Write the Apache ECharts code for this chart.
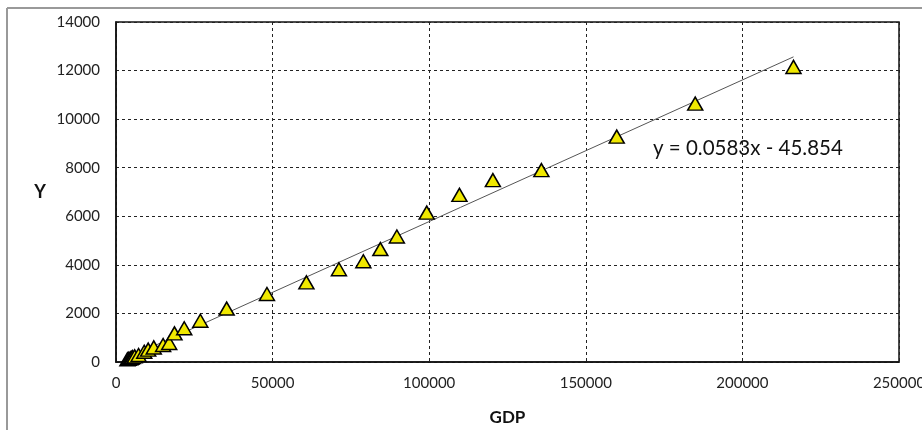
<!DOCTYPE html>
<html>
<head>
<meta charset="utf-8">
<script src="https://cdn.jsdelivr.net/npm/echarts@6/dist/echarts.min.js"></script>
<style>
  html, body { margin: 0; padding: 0; background: #fff; }
  #chart { width: 922px; height: 430px; }
</style>
</head>
<body>
<div id="chart"></div>
<script>
// GDP (x) vs Y
const gdp = [
  3645, 4063, 4546, 4892, 5323, 5963, 7208, 9016, 10275, 12059,
  15043, 16992, 18668, 21782, 26924, 35334, 48198, 60794, 71177, 78973,
  84402, 89677, 99215, 109655, 120333, 135823, 159878, 184937, 216314
]
const yValues = [
  110, 130, 155, 175, 200, 230, 290, 420, 510, 600,
  700, 780, 1180, 1390, 1700, 2200, 2800, 3280, 3820, 4150,
  4650, 5170, 6150, 6880, 7490, 7900, 9280, 10640, 12150
]

// trendline shown on the chart
const slope = 0.0583
const intercept = -45.854
const equationText = 'y = 0.0583x - 45.854'

const xTicks = { min: 0, max: 250000, interval: 50000 }
const yTicks = { min: 0, max: 14000, interval: 2000 }

const points = gdp.map((x, i) => [x, yValues[i]])
const xFirst = gdp[0]
const xLast = gdp[gdp.length - 1]
const trend = [
  [xFirst, slope * xFirst + intercept],
  [xLast, slope * xLast + intercept],
]

const font = 'Lato, "Open Sans", sans-serif'
const gridLine = { color: '#222', width: 1, type: [3, 3] }
const plainNumber = (v) => String(v)

const chart = echarts.init(document.getElementById('chart'), null, { renderer: 'canvas' })

chart.setOption({
  animation: false,
  backgroundColor: '#fff',
  grid: {
    left: 116,
    right: 23,
    top: 22,
    bottom: 68,
    containLabel: false,
    outerBoundsMode: 'none',
    show: true,
    borderColor: '#111',
    borderWidth: 1.5,
  },
  xAxis: {
    type: 'value',
    min: xTicks.min,
    max: xTicks.max,
    interval: xTicks.interval,
    name: 'GDP',
    nameLocation: 'middle',
    nameGap: 47,
    nameTextStyle: { fontFamily: font, fontSize: 17, fontWeight: 'bold', color: '#111' },
    axisLine: { show: true, lineStyle: { color: '#111', width: 1.5 } },
    axisTick: { show: false },
    axisLabel: { fontFamily: font, fontSize: 15, color: '#222', margin: 14, formatter: plainNumber },
    splitLine: { show: true, lineStyle: gridLine },
  },
  yAxis: {
    type: 'value',
    min: yTicks.min,
    max: yTicks.max,
    interval: yTicks.interval,
    name: 'Y',
    nameLocation: 'middle',
    nameGap: 70,
    nameRotate: 0,
    nameTextStyle: { fontFamily: font, fontSize: 18, fontWeight: 'bold', color: '#111' },
    axisLine: { show: true, lineStyle: { color: '#111', width: 1.5 } },
    axisTick: { show: false },
    axisLabel: { fontFamily: font, fontSize: 15, color: '#222', margin: 16, formatter: plainNumber },
    splitLine: { show: true, lineStyle: gridLine },
  },
  series: [
    {
      type: 'line',
      data: trend,
      symbol: 'none',
      lineStyle: { color: '#555', width: 1 },
      silent: true,
      z: 2,
    },
    {
      type: 'scatter',
      data: points,
      symbol: 'triangle',
      symbolSize: [15, 13],
      itemStyle: { color: '#f0e800', borderColor: '#000', borderWidth: 1.5, opacity: 1 },
      z: 3,
    },
  ],
  graphic: [
    {
      type: 'line',
      shape: { x1: 7, y1: 8, x2: 922, y2: 8 },
      style: { stroke: '#999', lineWidth: 2 },
    },
    {
      type: 'line',
      shape: { x1: 7, y1: 8, x2: 7, y2: 430 },
      style: { stroke: '#999', lineWidth: 2 },
    },
    {
      type: 'text',
      left: 653,
      top: 138,
      style: { text: equationText, font: '20.5px ' + font, fill: '#111' },
    },
  ],
})
</script>
</body>
</html>
